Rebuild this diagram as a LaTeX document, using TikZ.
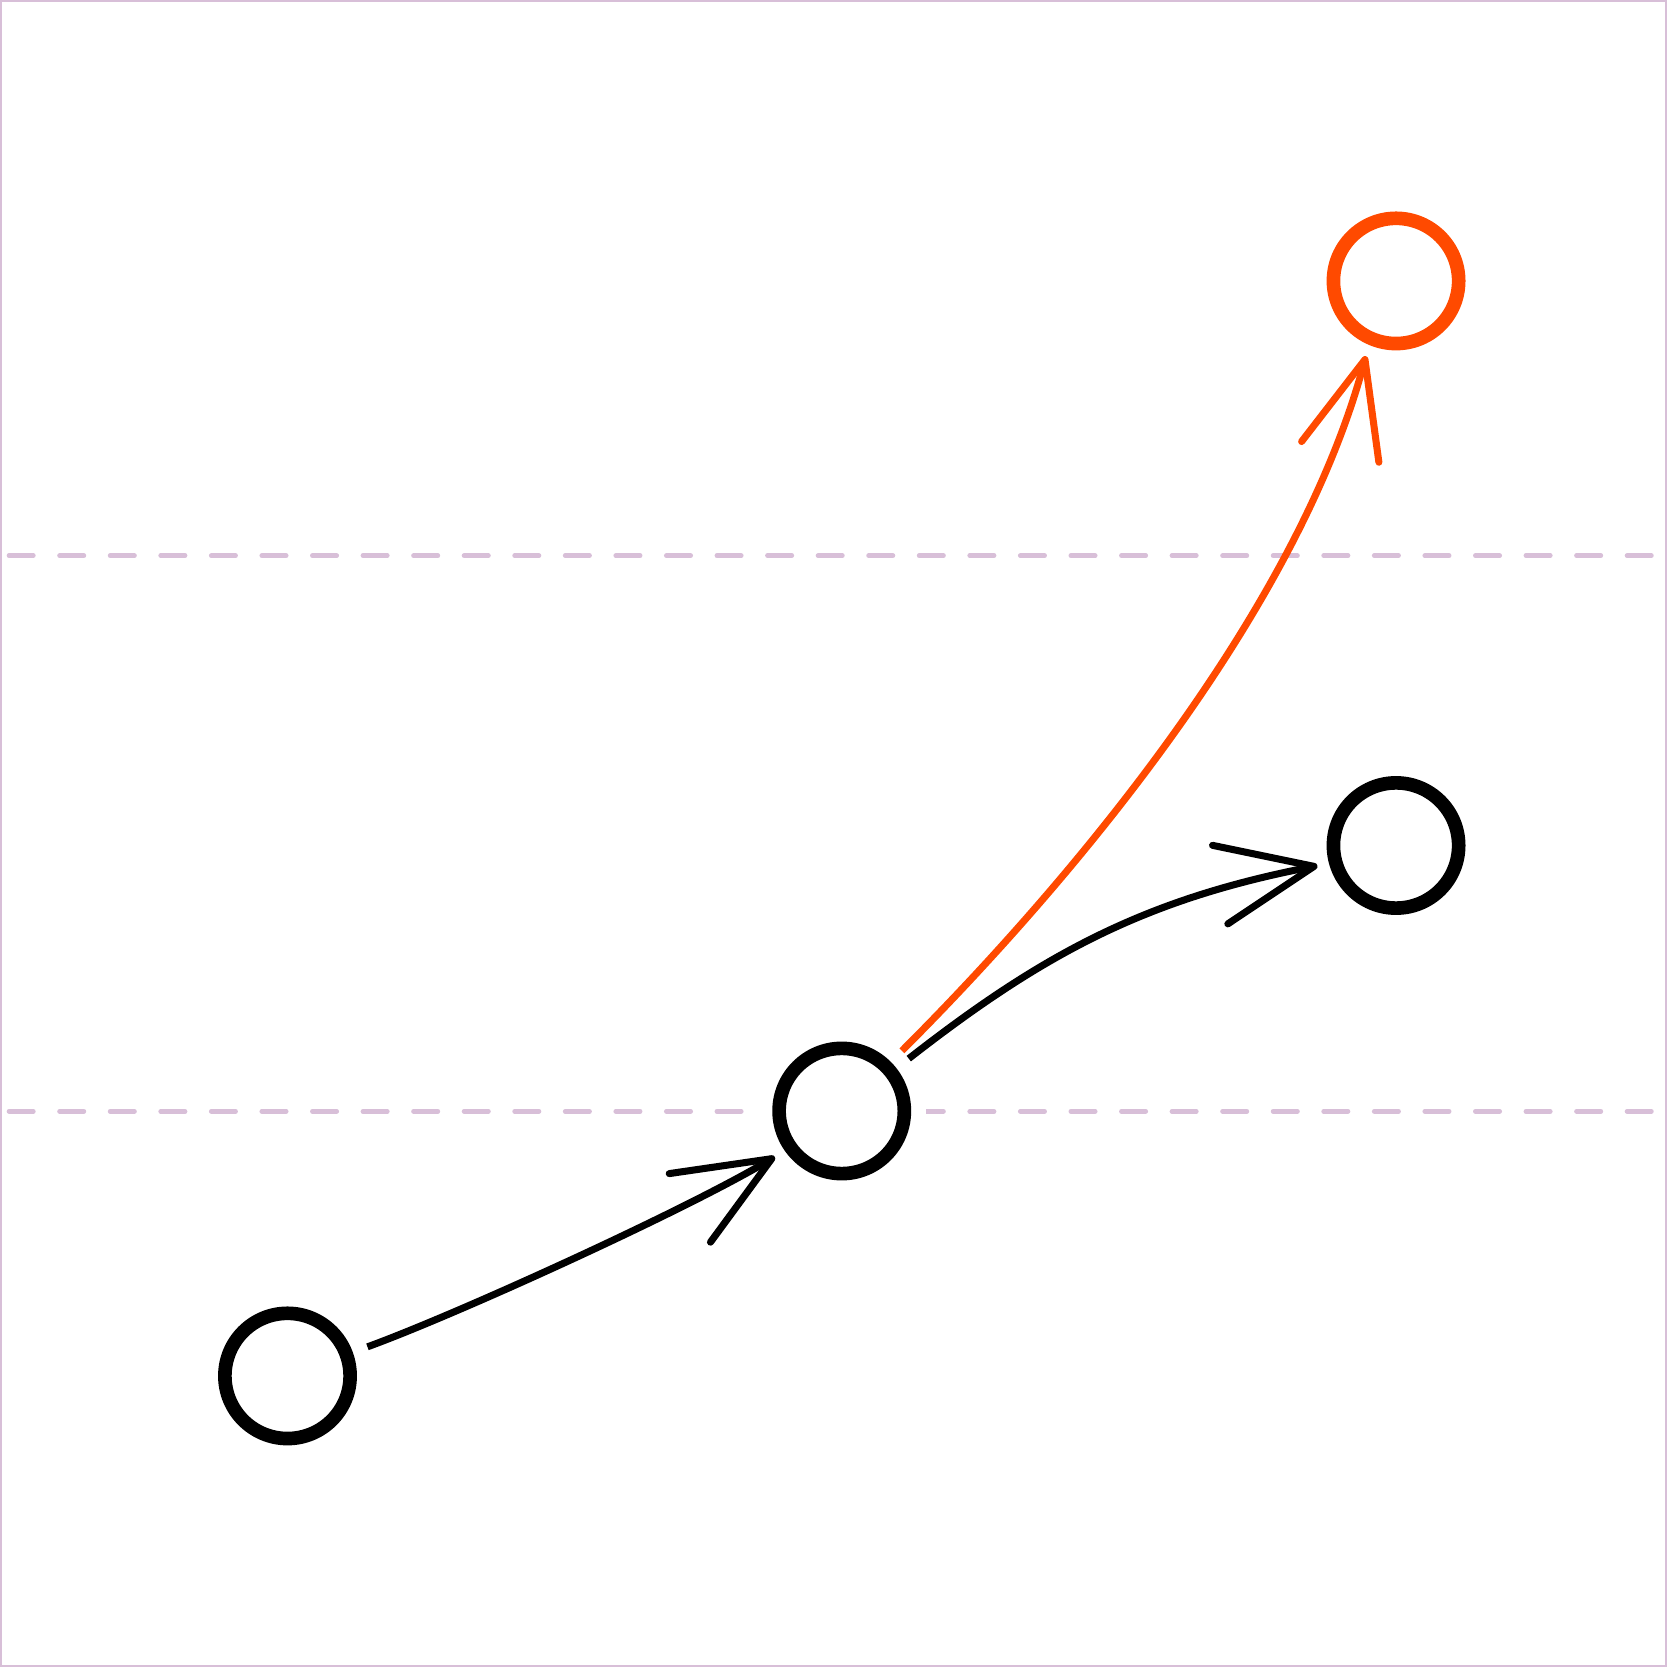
\documentclass[tikz,border=0pt]{standalone}
\usetikzlibrary{positioning, arrows.meta}
\definecolor{frame}{HTML}{D8BFD8}
\definecolor{hot}{HTML}{FF4A00}

\begin{document}
\begin{tikzpicture}[ring/.style = { circle, draw=black, line width=3.5pt, fill=white,
	minimum size=1.127cm, inner sep=0pt,
	preaction={draw=white, line width=11pt} },
	link/.style = { line width=1.8pt, shorten <=4pt, shorten >=3pt,
	-{Straight Barb[length=0.86cm, width=0.72cm, line cap=round, line join=round]} },
	level/.style = { frame, line width=1.2pt, line cap=round,
	dash pattern=on 0.219cm off 0.236cm } ]

  \useasboundingbox (0,0) rectangle (15,15);
  \draw [frame, line width=1.2pt] (0,0) rectangle (15,15);
  \draw [level] (0.081,5) -- (14.92,5);
  \draw [level] (0.081,10) -- (14.92,10);

  \node [name=low, ring] at (2.587,2.619) {};
  \node [name=mid, ring] at (7.574,5.003) {};
  \node [name=side, ring] at (12.562,7.392) {};
  \node [name=peak, ring, draw=hot, above=3.83cm of side] {};

  \draw [link] (low) to [out=20, in=211, looseness=0.6] (mid.215);
  \draw [link] (mid) to [out=38, in=191] (side.195);
  \draw [link, hot] (mid) to [out=45, in=255, looseness=0.8] (peak.247);
\end{tikzpicture}
\end{document}
